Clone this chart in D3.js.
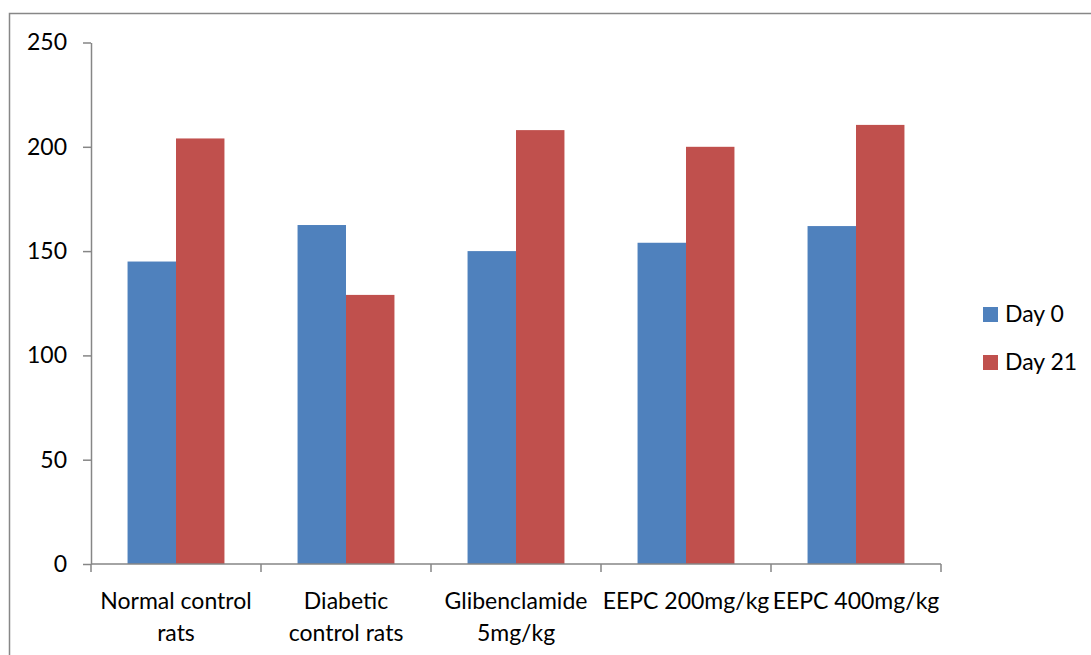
<!DOCTYPE html>
<html>
<head>
<meta charset="utf-8">
<script src="https://cdn.jsdelivr.net/npm/d3@7"></script>
<style>
  body { margin: 0; background: #fff; }
  svg { display: block; font-family: Lato, "Open Sans", sans-serif; }
</style>
</head>
<body>
<svg id="chart" width="1091" height="655"></svg>
<script>
var categories = [
    ["Normal control", "rats"],
    ["Diabetic", "control rats"],
    ["Glibenclamide", "5mg/kg"],
    ["EEPC 200mg/kg"],
    ["EEPC 400mg/kg"]
];
var seriesNames = ["Day 0", "Day 21"];
var day0 = [145, 162.5, 150, 154, 162];
var day21 = [204, 129, 208, 200, 210.5];
var yTicks = [0, 50, 100, 150, 200, 250];
var colors = ["#4f81bd", "#c0504d"];

var svg = d3.select("#chart");
var fontSize = 23;

// outer chart-area frame
svg.append("rect")
    .attr("x", 9.5).attr("y", 13.5)
    .attr("width", 1100).attr("height", 700)
    .attr("fill", "none")
    .attr("stroke", "#878787")
    .attr("stroke-width", 1.5);

var plotLeft = 91, plotRight = 941, plotTop = 42.5, plotBottom = 564;

var x = d3.scaleBand()
    .domain(d3.range(categories.length))
    .range([plotLeft, plotRight])
    .paddingInner(0.43)
    .paddingOuter(0.215);

var x1 = d3.scaleBand()
    .domain([0, 1])
    .range([0, x.bandwidth()]);

var y = d3.scaleLinear().domain([0, 250]).range([plotBottom, plotTop]);

var data = categories.map(function (c, i) {
    return [day0[i], day21[i]];
});

var groups = svg.append("g").selectAll("g")
    .data(data)
    .join("g")
    .attr("transform", function (d, i) { return "translate(" + x(i) + ",0)"; });

groups.selectAll("rect")
    .data(function (d) { return d; })
    .join("rect")
    .attr("x", function (d, j) { return x1(j); })
    .attr("y", function (d) { return y(d); })
    .attr("width", x1.bandwidth())
    .attr("height", function (d) { return y(0) - y(d); })
    .attr("fill", function (d, j) { return colors[j]; });

// y axis
var yAxis = svg.append("g")
    .attr("transform", "translate(" + plotLeft + ",0)")
    .call(d3.axisLeft(y).tickValues(yTicks).tickSize(8).tickSizeOuter(0).tickPadding(16));
yAxis.selectAll("line, path").attr("stroke", "#868686").attr("stroke-width", 1.5);
yAxis.selectAll("text").attr("font-size", fontSize).attr("fill", "#000")
    .attr("font-family", "Lato, sans-serif");

// x axis with boundary ticks
var xEdge = d3.scaleLinear().domain([0, categories.length]).range([plotLeft, plotRight]);
var xAxis = svg.append("g").attr("transform", "translate(0," + plotBottom + ")");
xAxis.append("line")
    .attr("x1", plotLeft).attr("x2", plotRight)
    .attr("stroke", "#868686").attr("stroke-width", 1.5);
xAxis.selectAll("line.tick")
    .data(d3.range(categories.length + 1))
    .join("line")
    .attr("class", "tick")
    .attr("x1", function (d) { return xEdge(d); })
    .attr("x2", function (d) { return xEdge(d); })
    .attr("y1", 0).attr("y2", 8)
    .attr("stroke", "#868686").attr("stroke-width", 1.5);

var labels = svg.append("g").selectAll("text")
    .data(categories)
    .join("text")
    .attr("text-anchor", "middle")
    .attr("font-size", fontSize)
    .attr("fill", "#000")
    .attr("transform", function (d, i) {
        return "translate(" + (x(i) + x.bandwidth() / 2) + ",0)";
    });
labels.selectAll("tspan")
    .data(function (d) { return d; })
    .join("tspan")
    .attr("x", 0)
    .attr("y", function (d, j) { return 609 + j * 32; })
    .text(function (d) { return d; });

// legend
var legend = svg.append("g").selectAll("g")
    .data(seriesNames)
    .join("g")
    .attr("transform", function (d, i) { return "translate(983," + (307 + i * 48) + ")"; });
legend.append("rect")
    .attr("width", 15).attr("height", 15)
    .attr("fill", function (d, i) { return colors[i]; });
legend.append("text")
    .attr("x", 22).attr("y", 15)
    .attr("font-size", fontSize)
    .attr("fill", "#000")
    .text(function (d) { return d; });
</script>
</body>
</html>
